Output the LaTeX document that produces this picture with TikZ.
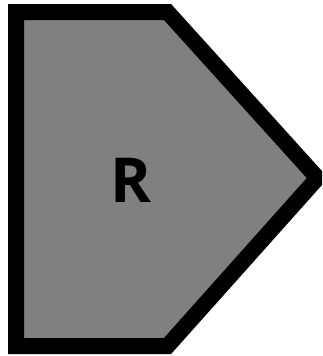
\documentclass[tikz,border=0pt]{standalone}
\usepackage{fontspec}
\newfontfamily\labelfont{Open Sans}
\definecolor{shapegray}{HTML}{808080}
\tikzset{
  signalshape/.style={draw=black, fill=shapegray, line width=16pt, line join=miter},
  shapelabel/.style={font=\labelfont\bfseries\fontsize{62}{62}\selectfont, text=black, inner sep=0pt}
}
\begin{document}
\begin{tikzpicture}[x=1pt,y=-1pt]
  \useasboundingbox (0,0) rectangle (322,356);
  \clip (0,0) rectangle (322,356);
  \fill[white] (0,0) rectangle (322,356);
  \coordinate (tl) at (16,12);
  \coordinate (tr) at (167.5,12);
  \coordinate (apex) at (317.5,178);
  \coordinate (br) at (167.5,346);
  \coordinate (bl) at (16,346);
  \draw[signalshape] (tl) -- (tr) -- (apex) -- (br) -- (bl) -- cycle;
  \node[shapelabel] (lbl) at (131,180) {R};
\end{tikzpicture}
\end{document}
